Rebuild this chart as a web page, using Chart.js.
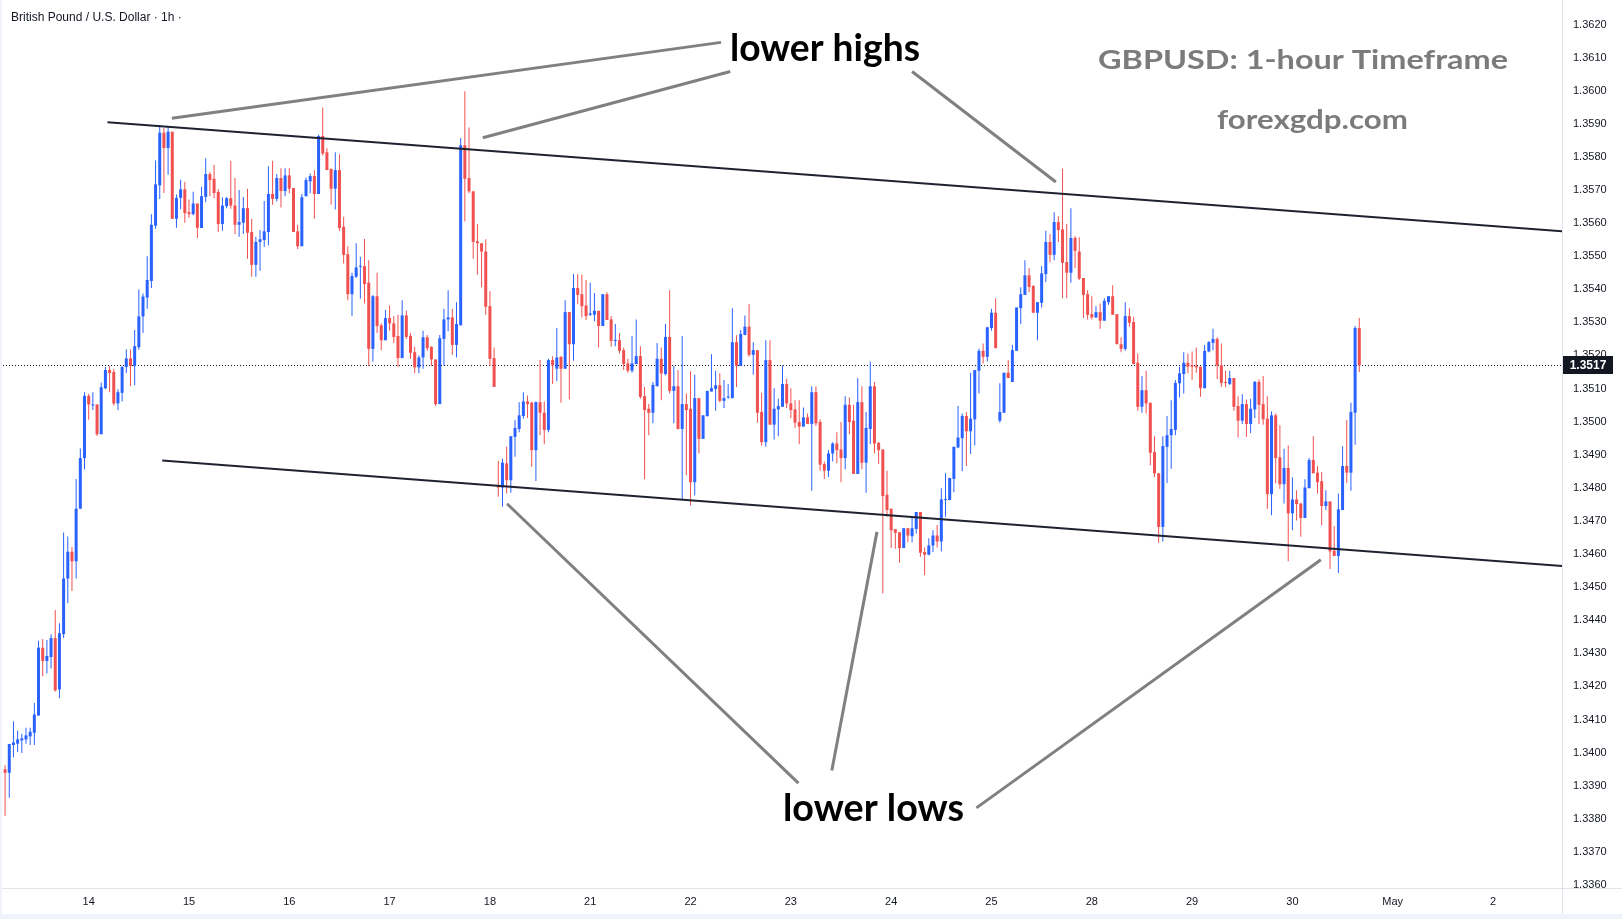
<!DOCTYPE html>
<html>
<head>
<meta charset="utf-8">
<title>GBPUSD 1h</title>
<script src="https://cdn.jsdelivr.net/npm/chart.js@4.4.1/dist/chart.umd.min.js"></script>
<style>
  html, body { margin: 0; padding: 0; background: #fff; }
  #wrap { width: 1622px; height: 919px; }
</style>
</head>
<body>
<div id="wrap"><canvas id="chart" width="1622" height="919"></canvas></div>
<script>
// hourly candles (index 0 = first visible bar)
const opens = [
  1.33950,1.33939,1.34023,1.34027,1.34037,1.34040,1.34049,1.34060,1.34112,1.34317,
  1.34277,1.34289,1.34346,1.34191,1.34358,1.34526,1.34607,1.34578,1.34737,1.34890,
  1.35078,1.35049,1.35052,1.34962,1.35101,1.35156,1.35150,1.35055,1.35087,1.35165,
  1.35191,1.35168,1.35225,1.35318,1.35375,1.35425,1.35592,1.35714,1.35873,1.35827,
  1.35876,1.35613,1.35676,1.35702,1.35633,1.35627,1.35659,1.35585,1.35679,1.35748,
  1.35734,1.35694,1.35597,1.35651,1.35675,1.35653,1.35595,1.35601,1.35645,1.35573,
  1.35474,1.35543,1.35549,1.35573,1.35688,1.35673,1.35736,1.35697,1.35744,1.35706,
  1.35575,1.35530,1.35681,1.35726,1.35742,1.35688,1.35863,1.35814,1.35764,1.35704,
  1.35760,1.35589,1.35506,1.35385,1.35438,1.35468,1.35470,1.35420,1.35220,1.35379,
  1.35291,1.35246,1.35313,1.35297,1.35259,1.35192,1.35321,1.35259,1.35210,1.35164,
  1.35194,1.35255,1.35226,1.35188,1.35053,1.35250,1.35309,1.35315,1.35232,1.35291,
  1.35835,1.35736,1.35696,1.35545,1.35539,1.35514,1.35349,1.35192,1.34807,1.34801,
  1.34874,1.34823,1.34954,1.34978,1.35017,1.35061,1.35057,1.34914,1.35059,1.35027,
  1.34975,1.35186,1.35160,1.35196,1.35160,1.35331,1.35234,1.35404,1.35385,1.35351,
  1.35323,1.35323,1.35335,1.35289,1.35385,1.35309,1.35244,1.35246,1.35216,1.35176,
  1.35154,1.35174,1.35198,1.35077,1.35039,1.35027,1.35107,1.35190,1.35144,1.35256,
  1.35093,1.35107,1.34978,1.35053,1.35039,1.34817,1.35071,1.34948,1.35017,1.35091,
  1.35099,1.35110,1.35063,1.35073,1.35071,1.35240,1.35168,1.35262,1.35287,1.35202,
  1.35216,1.35029,1.34938,1.35186,1.34991,1.35037,1.35045,1.35114,1.35055,1.35037,
  1.34999,1.34985,1.35013,1.34993,1.35089,1.34999,1.34872,1.34852,1.34904,1.34934,
  1.34916,1.34890,1.35051,1.35003,1.34842,1.35059,1.34876,1.34978,1.35107,1.34936,
  1.34916,1.34779,1.34737,1.34675,1.34666,1.34618,1.34678,1.34654,1.34676,1.34727,
  1.34606,1.34598,1.34626,1.34656,1.34638,1.34763,1.34763,1.34827,1.34922,1.34950,
  1.35017,1.34971,1.35007,1.35154,1.35214,1.35196,1.35283,1.35329,1.35003,1.35027,
  1.35148,1.35120,1.35214,1.35343,1.35383,1.35442,1.35410,1.35329,1.35359,1.35446,
  1.35543,1.35504,1.35603,1.35581,1.35482,1.35450,1.35555,1.35514,1.35434,1.35385,
  1.35325,1.35315,1.35331,1.35305,1.35361,1.35379,1.35325,1.35234,1.35220,1.35319,
  1.35301,1.35178,1.35045,1.35095,1.35057,1.34908,1.34844,1.34682,1.34924,1.34959,
  1.34975,1.35116,1.35144,1.35178,1.35170,1.35168,1.35166,1.35101,1.35212,1.35238,
  1.35250,1.35170,1.35120,1.35114,1.35132,1.35047,1.35003,1.35053,1.34993,1.35037,
  1.35120,1.35053,1.35009,1.34781,1.35019,1.34892,1.34811,1.34860,1.34723,1.34765,
  1.34753,1.34709,1.34799,1.34884,1.34846,1.34820,1.34745,1.34759,1.34610,1.34594,
  1.34733,1.34866,1.34846,1.35027,1.35283
];
const highs = [
  1.33962,1.34026,1.34095,1.34066,1.34057,1.34075,1.34075,1.34150,1.34338,1.34343,
  1.34340,1.34358,1.34431,1.34391,1.34665,1.34653,1.34621,1.34827,1.34919,1.35089,
  1.35084,1.35089,1.35052,1.35118,1.35165,1.35168,1.35159,1.35098,1.35168,1.35219,
  1.35219,1.35277,1.35399,1.35387,1.35500,1.35627,1.35789,1.35896,1.35887,1.35893,
  1.35876,1.35686,1.35731,1.35725,1.35671,1.35695,1.35659,1.35710,1.35796,1.35754,
  1.35776,1.35702,1.35678,1.35679,1.35788,1.35736,1.35700,1.35679,1.35704,1.35613,
  1.35559,1.35579,1.35667,1.35772,1.35788,1.35748,1.35766,1.35766,1.35766,1.35706,
  1.35595,1.35688,1.35738,1.35750,1.35760,1.35867,1.35949,1.35826,1.35764,1.35814,
  1.35808,1.35619,1.35530,1.35450,1.35539,1.35498,1.35552,1.35488,1.35383,1.35450,
  1.35297,1.35337,1.35351,1.35319,1.35323,1.35367,1.35335,1.35268,1.35226,1.35200,
  1.35275,1.35262,1.35228,1.35188,1.35262,1.35341,1.35397,1.35341,1.35361,1.35857,
  1.35998,1.35889,1.35696,1.35597,1.35539,1.35551,1.35394,1.35224,1.34882,1.34888,
  1.34924,1.34956,1.35005,1.35059,1.35089,1.35079,1.35061,1.35061,1.35186,1.35061,
  1.35190,1.35198,1.35283,1.35198,1.35367,1.35331,1.35446,1.35446,1.35444,1.35428,
  1.35420,1.35389,1.35335,1.35385,1.35391,1.35319,1.35295,1.35268,1.35224,1.35190,
  1.35259,1.35309,1.35228,1.35105,1.35053,1.35120,1.35238,1.35224,1.35295,1.35397,
  1.35168,1.35156,1.35259,1.35085,1.35152,1.35142,1.35071,1.35019,1.35093,1.35204,
  1.35154,1.35146,1.35126,1.35114,1.35343,1.35261,1.35277,1.35321,1.35355,1.35240,
  1.35216,1.35087,1.35246,1.35246,1.35101,1.35069,1.35170,1.35130,1.35101,1.35065,
  1.35065,1.35043,1.35025,1.35107,1.35107,1.35007,1.34880,1.34914,1.34938,1.34968,
  1.34999,1.35077,1.35073,1.35051,1.35132,1.35107,1.35029,1.35182,1.35120,1.34938,
  1.34916,1.34852,1.34737,1.34676,1.34666,1.34678,1.34678,1.34711,1.34727,1.34727,
  1.34620,1.34648,1.34672,1.34688,1.34799,1.34844,1.34830,1.34924,1.35047,1.35025,
  1.35029,1.35148,1.35156,1.35220,1.35236,1.35287,1.35341,1.35373,1.35116,1.35148,
  1.35186,1.35232,1.35345,1.35406,1.35488,1.35464,1.35412,1.35361,1.35470,1.35577,
  1.35567,1.35633,1.35621,1.35765,1.35597,1.35645,1.35561,1.35557,1.35434,1.35397,
  1.35379,1.35349,1.35357,1.35373,1.35379,1.35412,1.35325,1.35255,1.35361,1.35343,
  1.35317,1.35206,1.35138,1.35154,1.35057,1.34956,1.34844,1.34956,1.35017,1.35065,
  1.35126,1.35166,1.35210,1.35206,1.35212,1.35224,1.35166,1.35232,1.35244,1.35281,
  1.35255,1.35236,1.35154,1.35154,1.35132,1.35077,1.35083,1.35067,1.35069,1.35123,
  1.35128,1.35138,1.35077,1.35031,1.35025,1.34989,1.34918,1.34928,1.34832,1.34793,
  1.34753,1.34826,1.34890,1.34956,1.34866,1.34848,1.34793,1.34759,1.34684,1.34783,
  1.34926,1.35005,1.35057,1.35289,1.35313
];
const lows = [
  1.33809,1.33864,1.33985,1.34002,1.33999,1.34027,1.34023,1.34023,1.34112,1.34231,
  1.34239,1.34254,1.34185,1.34164,1.34346,1.34451,1.34488,1.34526,1.34737,1.34856,
  1.35006,1.35035,1.34957,1.34962,1.35098,1.35089,1.35049,1.35035,1.35061,1.35147,
  1.35107,1.35110,1.35217,1.35268,1.35341,1.35404,1.35583,1.35673,1.35691,1.35746,
  1.35613,1.35586,1.35642,1.35601,1.35616,1.35624,1.35555,1.35585,1.35663,1.35681,
  1.35675,1.35573,1.35577,1.35645,1.35643,1.35567,1.35559,1.35567,1.35492,1.35438,
  1.35438,1.35456,1.35528,1.35533,1.35655,1.35665,1.35647,1.35681,1.35690,1.35573,
  1.35522,1.35530,1.35681,1.35690,1.35613,1.35688,1.35804,1.35760,1.35655,1.35641,
  1.35577,1.35478,1.35367,1.35319,1.35434,1.35371,1.35357,1.35168,1.35182,1.35268,
  1.35216,1.35246,1.35275,1.35238,1.35166,1.35192,1.35250,1.35190,1.35146,1.35146,
  1.35160,1.35214,1.35168,1.35047,1.35053,1.35170,1.35273,1.35202,1.35194,1.35291,
  1.35605,1.35690,1.35492,1.35444,1.35406,1.35323,1.35168,1.35105,1.34773,1.34743,
  1.34783,1.34785,1.34894,1.34968,1.35009,1.35011,1.34864,1.34821,1.34959,1.34932,
  1.34968,1.35114,1.35123,1.35057,1.35160,1.35067,1.35184,1.35355,1.35315,1.35307,
  1.35319,1.35303,1.35224,1.35289,1.35307,1.35226,1.35228,1.35206,1.35156,1.35148,
  1.35148,1.35174,1.35069,1.34826,1.34959,1.34995,1.35107,1.35065,1.35140,1.35085,
  1.34995,1.34977,1.34765,1.34838,1.34747,1.34777,1.34904,1.34948,1.35015,1.35091,
  1.35033,1.35059,1.35041,1.35069,1.35071,1.35105,1.35168,1.35261,1.35196,1.35142,
  1.34997,1.34928,1.34924,1.34991,1.34946,1.34956,1.35045,1.35041,1.35011,1.34981,
  1.34932,1.34985,1.34993,1.34791,1.34987,1.34852,1.34827,1.34833,1.34880,1.34874,
  1.34817,1.34856,1.34962,1.34842,1.34842,1.34856,1.34785,1.34932,1.34904,1.34872,
  1.34481,1.34713,1.34618,1.34616,1.34574,1.34618,1.34636,1.34636,1.34662,1.34592,
  1.34536,1.34596,1.34606,1.34620,1.34608,1.34713,1.34763,1.34787,1.34920,1.34850,
  1.34866,1.34902,1.34928,1.35085,1.35176,1.35182,1.35275,1.35222,1.34997,1.35027,
  1.35132,1.35120,1.35214,1.35295,1.35383,1.35391,1.35329,1.35246,1.35345,1.35422,
  1.35482,1.35488,1.35543,1.35373,1.35373,1.35420,1.35464,1.35428,1.35313,1.35309,
  1.35309,1.35313,1.35281,1.35305,1.35353,1.35323,1.35234,1.35210,1.35214,1.35287,
  1.35174,1.35033,1.35027,1.35025,1.34868,1.34833,1.34634,1.34638,1.34815,1.34858,
  1.34959,1.35073,1.35085,1.35146,1.35126,1.35148,1.35075,1.35101,1.35210,1.35216,
  1.35128,1.35105,1.35104,1.35111,1.35033,1.34952,1.34993,1.34954,1.34966,1.35011,
  1.34993,1.34991,1.34737,1.34717,1.34814,1.34797,1.34753,1.34578,1.34672,1.34701,
  1.34652,1.34709,1.34799,1.34844,1.34783,1.34687,1.34733,1.34555,1.34594,1.34543,
  1.34733,1.34815,1.34791,1.34930,1.35150
];
const closes = [
  1.33939,1.34026,1.34031,1.34040,1.34043,1.34052,1.34063,1.34115,1.34317,1.34277,
  1.34292,1.34346,1.34188,1.34361,1.34526,1.34607,1.34578,1.34737,1.34890,1.35078,
  1.35052,1.35052,1.34962,1.35104,1.35156,1.35147,1.35055,1.35089,1.35165,1.35191,
  1.35168,1.35228,1.35318,1.35378,1.35428,1.35595,1.35717,1.35873,1.35827,1.35876,
  1.35613,1.35676,1.35702,1.35630,1.35627,1.35659,1.35586,1.35681,1.35748,1.35730,
  1.35691,1.35597,1.35653,1.35675,1.35653,1.35595,1.35603,1.35645,1.35571,1.35474,
  1.35543,1.35551,1.35575,1.35688,1.35673,1.35736,1.35697,1.35744,1.35704,1.35573,
  1.35530,1.35678,1.35730,1.35742,1.35688,1.35863,1.35810,1.35760,1.35704,1.35760,
  1.35585,1.35504,1.35385,1.35440,1.35466,1.35470,1.35416,1.35220,1.35379,1.35289,
  1.35246,1.35313,1.35297,1.35256,1.35192,1.35321,1.35256,1.35208,1.35164,1.35194,
  1.35255,1.35222,1.35188,1.35053,1.35252,1.35309,1.35315,1.35232,1.35295,1.35835,
  1.35734,1.35696,1.35543,1.35539,1.35514,1.35347,1.35190,1.35105,1.34801,1.34876,
  1.34823,1.34956,1.34981,1.35019,1.35061,1.35053,1.34914,1.35059,1.35027,1.34975,
  1.35186,1.35170,1.35194,1.35160,1.35331,1.35234,1.35404,1.35383,1.35349,1.35319,
  1.35327,1.35335,1.35289,1.35385,1.35307,1.35244,1.35246,1.35214,1.35174,1.35154,
  1.35176,1.35198,1.35075,1.35035,1.35027,1.35111,1.35190,1.35146,1.35256,1.35093,
  1.35107,1.34978,1.35053,1.35035,1.34817,1.35071,1.34948,1.35019,1.35093,1.35101,
  1.35110,1.35063,1.35071,1.35075,1.35240,1.35168,1.35265,1.35287,1.35202,1.35216,
  1.35027,1.34938,1.35186,1.34991,1.35039,1.35047,1.35114,1.35055,1.35035,1.34997,
  1.34985,1.35013,1.34993,1.35089,1.34995,1.34870,1.34852,1.34904,1.34934,1.34914,
  1.34890,1.35051,1.34999,1.34842,1.35059,1.34876,1.34981,1.35107,1.34934,1.34914,
  1.34775,1.34733,1.34672,1.34664,1.34618,1.34678,1.34656,1.34678,1.34727,1.34604,
  1.34598,1.34626,1.34656,1.34638,1.34765,1.34765,1.34830,1.34924,1.34952,1.35017,
  1.34971,1.35009,1.35156,1.35214,1.35196,1.35285,1.35329,1.35222,1.35029,1.35148,
  1.35132,1.35216,1.35345,1.35385,1.35442,1.35407,1.35329,1.35361,1.35448,1.35543,
  1.35504,1.35603,1.35579,1.35480,1.35450,1.35555,1.35516,1.35432,1.35383,1.35323,
  1.35315,1.35331,1.35305,1.35365,1.35379,1.35323,1.35234,1.35220,1.35319,1.35299,
  1.35174,1.35045,1.35095,1.35055,1.34906,1.34844,1.34682,1.34926,1.34959,1.34978,
  1.35117,1.35146,1.35178,1.35166,1.35166,1.35164,1.35101,1.35214,1.35240,1.35250,
  1.35170,1.35117,1.35117,1.35132,1.35045,1.35003,1.35053,1.34993,1.35039,1.35120,
  1.35051,1.35007,1.34781,1.35019,1.34890,1.34811,1.34860,1.34723,1.34765,1.34751,
  1.34709,1.34801,1.34884,1.34844,1.34817,1.34745,1.34759,1.34608,1.34594,1.34735,
  1.34866,1.34846,1.35029,1.35283,1.35170
];

// time axis: day labels and the bar slot where each sits
const dayLabels = ['14','15','16','17','18','21','22','23','24','25','28','29','30','May','2'];
const dayBars   = [20, 44, 68, 92, 116, 140, 164, 188, 212, 236, 260, 284, 308, 332, 356];
const slotCount = 373;   // visible bar slots incl. empty space on the right

// price axis
const priceTicks = [
  1.3360,1.3370,1.3380,1.3390,1.3400,1.3410,1.3420,1.3430,1.3440,
  1.3450,1.3460,1.3470,1.3480,1.3490,1.3500,1.3510,1.3520,1.3530,
  1.3540,1.3550,1.3560,1.3570,1.3580,1.3590,1.3600,1.3610,1.3620
];
const priceMin = 1.33591;
const priceMax = 1.36274;

// drawings in (bar index, price)
const trendLines = [
  [24.5, 1.35905, 372.5, 1.35575],
  [37.6, 1.34883, 372.5, 1.34564]
];
const pointerLines = [
  [39.9, 1.35917, 171.3, 1.36146],
  [114.3, 1.35858, 173.5, 1.36058],
  [217.0, 1.36058, 251.4, 1.35724],
  [120.1, 1.34752, 189.8, 1.33908],
  [208.6, 1.34667, 197.8, 1.33946],
  [314.8, 1.34583, 232.4, 1.33833]
];

const UP = '#2962ff';
const DOWN = '#f0504f';
const INK = '#131722';
const AXIS_FONT = 'Liberation Sans';

const slotLabels = [];
for (let i = 0; i < slotCount; i++) {
  const k = dayBars.indexOf(i);
  slotLabels.push(k >= 0 ? dayLabels[k] : '');
}
const bodies = opens.map((o, i) => [o, closes[i]]);
const wicks = lows.map((l, i) => [l, highs[i]]);
const candleColors = closes.map((c, i) => c >= opens[i] ? UP : DOWN);
const lastPrice = closes[closes.length - 1];

// text drawn at a given size, stretched to the measured width
function fitText(ctx, text, x, y, size, width, color) {
  ctx.save();
  ctx.font = 'bold ' + size + 'px Lato';
  const w = ctx.measureText(text).width;
  ctx.translate(x, y);
  ctx.scale(width / w, 1);
  ctx.fillStyle = color;
  ctx.textBaseline = 'alphabetic';
  ctx.textAlign = 'left';
  ctx.fillText(text, 0, 0);
  ctx.restore();
}

const notes = {
  id: 'notes',
  beforeDatasetsDraw(chart) {
    const { ctx, chartArea, scales } = chart;
    const y = Math.round(scales.y.getPixelForValue(lastPrice)) + 0.5;
    ctx.save();
    ctx.strokeStyle = INK;
    ctx.lineWidth = 1;
    ctx.setLineDash([1, 2]);
    ctx.beginPath();
    ctx.moveTo(chartArea.left, y);
    ctx.lineTo(chartArea.right, y);
    ctx.stroke();
    ctx.restore();
  },
  afterDatasetsDraw(chart) {
    const { ctx, chartArea, scales } = chart;
    const px = v => scales.x.getPixelForValue(v);
    const py = v => scales.y.getPixelForValue(v);
    ctx.save();
    ctx.beginPath();
    ctx.rect(chartArea.left, chartArea.top, chartArea.right - chartArea.left, chartArea.bottom - chartArea.top);
    ctx.clip();

    ctx.strokeStyle = '#1e2230';
    ctx.lineWidth = 2;
    trendLines.forEach(l => {
      ctx.beginPath();
      ctx.moveTo(px(l[0]), py(l[1]));
      ctx.lineTo(px(l[2]), py(l[3]));
      ctx.stroke();
    });

    ctx.strokeStyle = '#808080';
    ctx.lineWidth = 3;
    pointerLines.forEach(l => {
      ctx.beginPath();
      ctx.moveTo(px(l[0]), py(l[1]));
      ctx.lineTo(px(l[2]), py(l[3]));
      ctx.stroke();
    });
    ctx.restore();

    fitText(ctx, 'lower highs', 730, 61, 38, 190, '#000000');
    fitText(ctx, 'lower lows', 783, 821, 38, 181, '#000000');
    fitText(ctx, 'GBPUSD: 1-hour Timeframe', 1098, 69, 26, 410, '#7b7b7b');
    fitText(ctx, 'forexgdp.com', 1217, 129, 26, 191, '#7b7b7b');

    ctx.save();
    ctx.font = '12px ' + AXIS_FONT;
    ctx.fillStyle = INK;
    ctx.textBaseline = 'alphabetic';
    ctx.fillText('British Pound / U.S. Dollar \u00b7 1h \u00b7', 11, 21);
    ctx.restore();
  },
  afterDraw(chart) {
    const { ctx, chartArea, scales, width, height } = chart;
    ctx.save();
    // panel frame
    ctx.strokeStyle = '#e0e3eb';
    ctx.lineWidth = 1;
    ctx.beginPath();
    ctx.moveTo(0, chartArea.bottom + 0.5);
    ctx.lineTo(width, chartArea.bottom + 0.5);
    ctx.moveTo(chartArea.right + 0.5, 0);
    ctx.lineTo(chartArea.right + 0.5, height - 5);
    ctx.stroke();
    ctx.fillStyle = '#f0f3fa';
    ctx.fillRect(0, 0, 2, height);
    ctx.fillRect(0, height - 5, width, 5);

    // last price tag
    const y = scales.y.getPixelForValue(lastPrice);
    ctx.fillStyle = INK;
    ctx.fillRect(chartArea.right + 1, Math.round(y) - 9, 50, 18);
    ctx.fillStyle = '#ffffff';
    ctx.font = 'bold 12px ' + AXIS_FONT;
    ctx.textAlign = 'center';
    ctx.textBaseline = 'middle';
    ctx.fillText(lastPrice.toFixed(4), chartArea.right + 26, Math.round(y) + 0.5);
    ctx.restore();
  }
};

const ctx = document.getElementById('chart').getContext('2d');
new Chart(ctx, {
  type: 'bar',
  data: {
    labels: slotLabels,
    datasets: [
      {
        label: 'body',
        data: bodies,
        backgroundColor: candleColors,
        barThickness: 3,
        minBarLength: 1,
        borderWidth: 0,
        borderSkipped: false,
        inflateAmount: 0,
        grouped: false
      },
      {
        label: 'wick',
        data: wicks,
        backgroundColor: candleColors,
        barThickness: 1,
        borderWidth: 0,
        borderSkipped: false,
        inflateAmount: 0,
        grouped: false
      }
    ]
  },
  options: {
    responsive: false,
    animation: false,
    devicePixelRatio: 1,
    layout: { padding: { left: 3, top: 0, right: 0, bottom: 0 } },
    plugins: {
      legend: { display: false },
      tooltip: { enabled: false }
    },
    scales: {
      x: {
        type: 'category',
        offset: true,
        grid: { display: false, drawTicks: false },
        border: { display: false },
        ticks: {
          autoSkip: false,
          maxRotation: 0,
          minRotation: 0,
          padding: 7,
          color: INK,
          font: { family: AXIS_FONT, size: 11 },
          callback: (value, index) => slotLabels[index]
        },
        afterFit: scale => {
          scale.height = 31;
          scale.paddingLeft = 0;
          scale.paddingRight = 0;
        }
      },
      y: {
        position: 'right',
        min: priceMin,
        max: priceMax,
        grid: { display: false, drawTicks: false },
        border: { display: false },
        afterBuildTicks: scale => { scale.ticks = priceTicks.map(v => ({ value: v })); },
        ticks: {
          padding: 11,
          color: INK,
          font: { family: AXIS_FONT, size: 11 },
          callback: value => value.toFixed(4)
        },
        afterFit: scale => {
          scale.width = 60;
          scale.paddingTop = 0;
          scale.paddingBottom = 0;
        }
      }
    }
  },
  plugins: [notes]
});
</script>
</body>
</html>
